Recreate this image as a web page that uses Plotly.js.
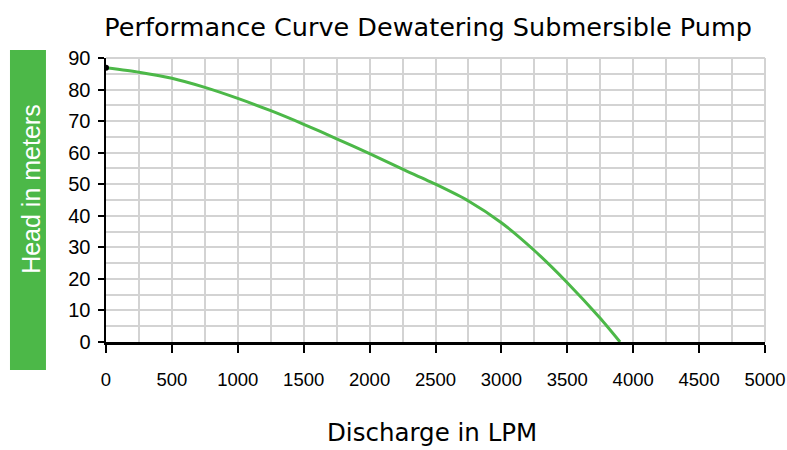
<!DOCTYPE html>
<html>
<head>
<meta charset="utf-8">
<script src="https://cdn.plot.ly/plotly-3.0.1.min.js"></script>
<style>html,body{margin:0;padding:0;background:#fff;}#chart{width:787px;height:450px;}</style>
</head>
<body>
<div id="chart"></div>
<script>
const discharge = [0, 250, 500, 750, 1000, 1250, 1500, 1750, 2000, 2250, 2500, 2750, 3000, 3250, 3500, 3750, 3900];
const head = [86.9, 85.5, 83.6, 80.7, 77.2, 73.3, 69.0, 64.4, 59.7, 54.8, 50.0, 44.7, 37.8, 29.0, 18.8, 7.5, 0];
const startPointX = [0];
const startPointY = [86.9];
const xTicks = [0, 500, 1000, 1500, 2000, 2500, 3000, 3500, 4000, 4500, 5000];
const yTicks = [0, 10, 20, 30, 40, 50, 60, 70, 80, 90];
const titleText = "Performance Curve Dewatering Submersible Pump";
const xTitle = "Discharge in LPM";
const yTitle = "Head in meters";

const green = "#4cb848";
const grid = "#d3d3d3";
const xTickFont = {family: "Liberation Sans, Arial, sans-serif", size: 18.5, color: "#000"};
const yTickFont = {family: "Liberation Sans, Arial, sans-serif", size: 20, color: "#000"};
const titleFont = {family: "'DejaVu Sans', sans-serif", size: 25.5, color: "#000"};
const xTitleFont = {family: "'DejaVu Sans', sans-serif", size: 24.5, color: "#000"};

const traces = [
  {x: discharge, y: head, type: "scatter", mode: "lines", line: {color: green, width: 3, shape: "spline", smoothing: 0.6}, hoverinfo: "skip"},
  {x: startPointX, y: startPointY, type: "scatter", mode: "markers", marker: {color: "#000", size: 6}, hoverinfo: "skip"}
];

const layout = {
  width: 787, height: 450,
  margin: {l: 106, r: 22, t: 58, b: 108},
  paper_bgcolor: "#fff", plot_bgcolor: "#fff",
  showlegend: false,
  title: {text: titleText, font: titleFont, x: 0.544, xref: "container", xanchor: "center", y: 0.94, yref: "container", yanchor: "middle"},
  xaxis: {
    range: [0, 5000], tickvals: xTicks, ticktext: xTicks.map(String),
    showgrid: true, gridcolor: grid, gridwidth: 2,
    minor: {dtick: 250, tick0: 0, showgrid: true, gridcolor: grid, gridwidth: 2, ticks: ""},
    showline: true, linecolor: "#000", linewidth: 2.5,
    ticks: "outside", ticklen: 8, tickwidth: 2, tickcolor: "#000",
    tickfont: xTickFont, ticklabelstandoff: 11,
    zeroline: false, fixedrange: true
  },
  yaxis: {
    range: [0, 90], tickvals: yTicks, ticktext: yTicks.map(String),
    showgrid: true, gridcolor: grid, gridwidth: 2,
    minor: {dtick: 5, tick0: 0, showgrid: true, gridcolor: grid, gridwidth: 2, ticks: ""},
    showline: true, linecolor: "#000", linewidth: 2.5,
    ticks: "outside", ticklen: 6, tickwidth: 2, tickcolor: "#000",
    tickfont: yTickFont, ticklabelstandoff: 3,
    zeroline: false, fixedrange: true
  },
  shapes: [
    {type: "rect", xref: "paper", yref: "paper", x0: -0.1457, x1: -0.0911, y0: -0.0986, y1: 1.028, fillcolor: green, line: {width: 0}, layer: "below"},
    {type: "line", xref: "paper", yref: "paper", x0: 0, x1: 1, y0: 1, y1: 1, line: {color: grid, width: 2}, layer: "below"},
    {type: "line", xref: "paper", yref: "paper", x0: 1, x1: 1, y0: 0, y1: 1, line: {color: grid, width: 2}, layer: "below"}
  ],
  annotations: [
    {text: yTitle, xref: "paper", yref: "paper", x: -0.1150, y: 0.54, textangle: -90, showarrow: false, xanchor: "center", yanchor: "middle", font: {family: "Liberation Sans, Arial, sans-serif", size: 25, color: "#fff"}},
    {text: xTitle, xref: "paper", yref: "paper", x: 0.494, y: -0.32, showarrow: false, xanchor: "center", yanchor: "middle", font: xTitleFont}
  ]
};

Plotly.newPlot("chart", traces, layout, {staticPlot: true, displayModeBar: false});
</script>
</body>
</html>
